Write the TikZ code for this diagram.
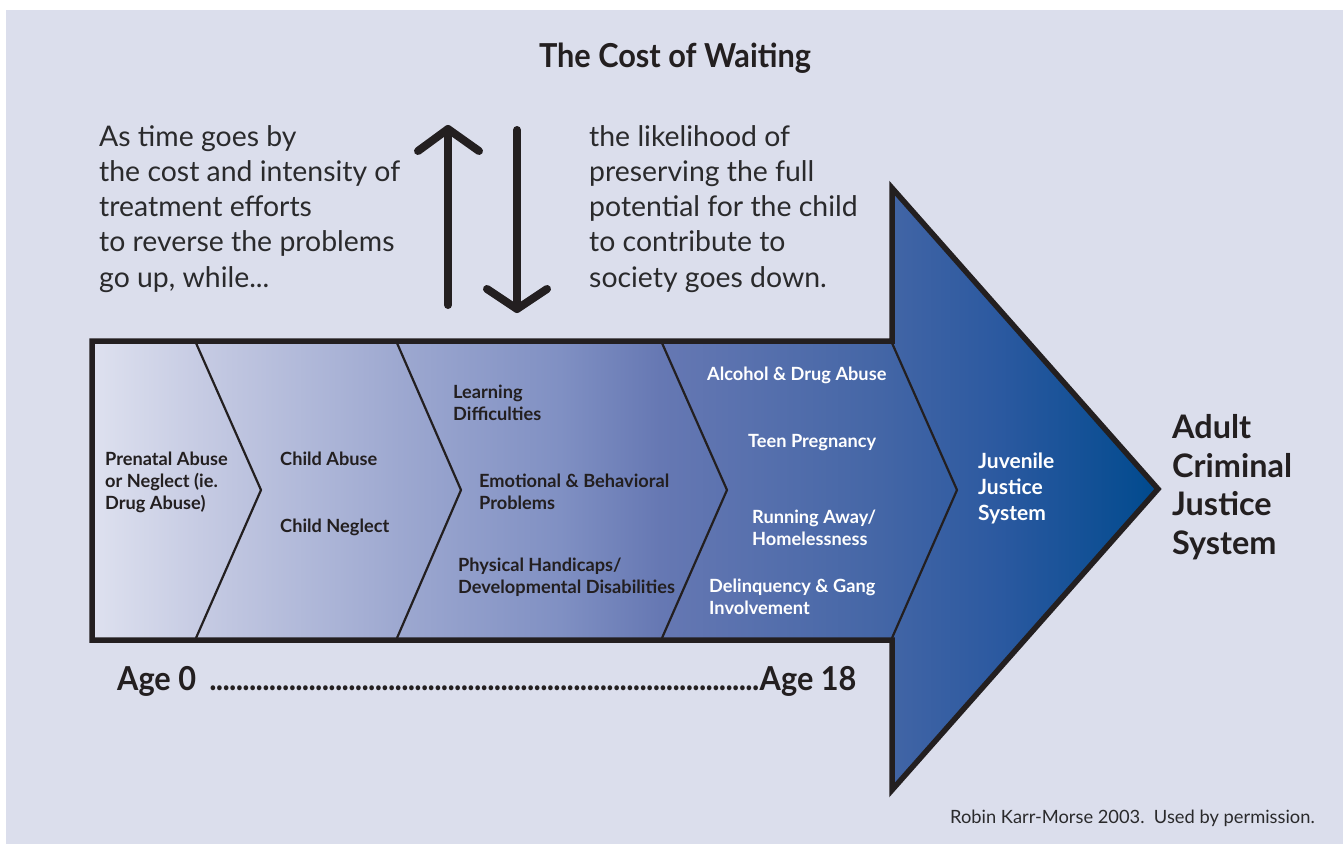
\documentclass[tikz,border=0pt]{standalone}
\usepackage{fontspec}
\setmainfont{Lato}
\definecolor{bg}{HTML}{DBDEEC}
\definecolor{ink}{HTML}{231F20}
\definecolor{bodyink}{HTML}{2A2A2C}
\definecolor{sA}{HTML}{DEE1EF}
\definecolor{sB}{HTML}{C6CBE3}
\definecolor{sC}{HTML}{9DA8D0}
\definecolor{sD}{HTML}{8090C3}
\definecolor{sE}{HTML}{6678B3}
\definecolor{sF}{HTML}{4466A6}
\definecolor{sG}{HTML}{2B59A0}
\definecolor{sH}{HTML}{004A8E}
\pgfdeclarehorizontalshading{bandshade}{100bp}{color(0bp)=(sA); color(25bp)=(sA); color(30.07bp)=(sB); color(39.45bp)=(sC); color(46.95bp)=(sD); color(51.64bp)=(sE); color(61.96bp)=(sF); color(67.59bp)=(sG); color(75bp)=(sH); color(100bp)=(sH)}
\tikzset{
  body/.style={font=\fontsize{28.4}{35.2}\selectfont, text=bodyink, inner sep=0pt, anchor=base west, align=left},
  lab/.style={font=\bfseries\fontsize{18.2}{22}\selectfont, text=ink, inner sep=0pt, anchor=base west, align=left},
  wlab/.style={lab, text=white},
  juv/.style={font=\bfseries\fontsize{21}{26}\selectfont, text=white, inner sep=0pt, anchor=base west, align=left},
  big/.style={font=\bfseries\fontsize{32.4}{38.5}\selectfont, text=ink, inner sep=0pt, anchor=base west, align=left},
  chev/.style={draw=ink, line width=2.2pt, line join=miter},
  bigarrow/.style={line width=8pt, draw=ink, line cap=round, line join=round},
}
\begin{document}
\begin{tikzpicture}[x=1pt, y=-1pt]
\useasboundingbox (0,0) rectangle (1344,844);
\fill[white] (0,0) rectangle (1344,844);
\fill[bg] (6,10) rectangle (1343,844);

% title
\node[anchor=base, inner sep=0pt, text=ink] (title) at (675,67)
  {\scalebox{0.93}[1]{\bfseries\fontsize{33}{33}\selectfont The Cost of Waiting}};

% side texts (anchor = baseline of last line)
\node[body] (left) at (99,287) {As time goes by\\the cost and intensity of\\treatment efforts\\to reverse the problems\\go up, while...};
\node[body] (right) at (589,287) {the likelihood of\\preserving the full\\potential for the child\\to contribute to\\society goes down.};

% up / down arrows
\coordinate (upBot) at (448,305);
\coordinate (upTip) at (448,129);
\coordinate (upL) at (418,151);
\coordinate (upR) at (479,151);
\coordinate (dnTop) at (517,130);
\coordinate (dnTip) at (517,309);
\coordinate (dnL) at (487,289);
\coordinate (dnR) at (547,289);
\draw[bigarrow] (upBot) -- (upTip);
\draw[bigarrow] (upL) -- (upTip) -- (upR);
\draw[bigarrow] (dnTop) -- (dnTip);
\draw[bigarrow] (dnL) -- (dnTip) -- (dnR);

% main arrow band
\path[shading=bandshade, draw=ink, line width=5.5pt, line join=miter]
  (92,341) -- (892,341) -- (892,188) -- (1158,489) -- (892,790) -- (892,640) -- (92,640) -- cycle;
\draw[chev] (196,343) -- (261,490) -- (196,638);
\draw[chev] (397,343) -- (461,490) -- (397,638);
\draw[chev] (662,343) -- (727,490) -- (662,638);
\draw[chev] (892,343) -- (957,490) -- (892,638);

% band labels (anchor = baseline of last line)
\node[lab] (prenatal) at (105,509) {Prenatal Abuse\\or Neglect (ie.\\Drug Abuse)};
\node[lab] (cabuse) at (280,465) {Child Abuse};
\node[lab] (cneglect) at (280,532) {Child Neglect};
\node[lab] (learning) at (453,420) {Learning\\Difficulties};
\node[lab] (emotional) at (479,509) {Emotional \& Behavioral\\Problems};
\node[lab] (physical) at (458,593) {Physical Handicaps/\\Developmental Disabilities};
\node[wlab] (alcohol) at (707,380) {Alcohol \& Drug Abuse};
\node[wlab] (teen) at (748,447) {Teen Pregnancy};
\node[wlab] (running) at (752,545) {Running Away/\\Homelessness};
\node[wlab] (delinq) at (709,614) {Delinquency \& Gang\\Involvement};
\node[juv] (juvenile) at (978,520) {Juvenile\\Justice\\System};
\node[big] (adult) at (1172,554) {Adult\\Criminal\\Justice\\System};

% age line
\node[anchor=base west, inner sep=0pt, text=ink] (age) at (117,690)
  {\scalebox{0.93}[1]{\bfseries\fontsize{33}{33}\selectfont\makebox[793.5pt][s]{Age 0 \leaders\hbox to 7.1pt{\hss.\hss}\hfill Age 18}}};

% credit
\node[anchor=base east, inner sep=0pt, text=bodyink, font=\fontsize{18.3}{18.3}\selectfont] (credit) at (1315,823)
  {Robin Karr-Morse 2003.\ \ Used by permission.};
\end{tikzpicture}
\end{document}
